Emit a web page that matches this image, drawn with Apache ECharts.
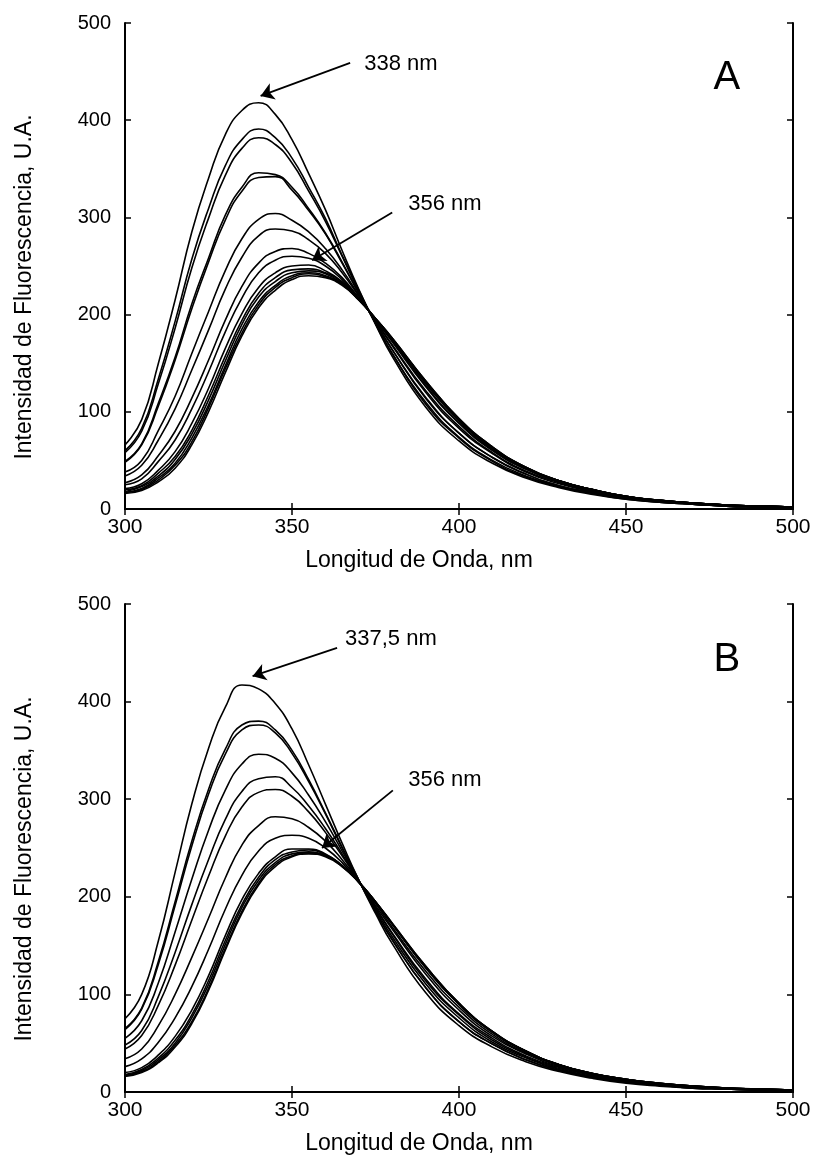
<!DOCTYPE html>
<html><head><meta charset="utf-8">
<script src="https://cdn.jsdelivr.net/npm/echarts@6/dist/echarts.min.js"></script>
<style>html,body{margin:0;padding:0;background:#fff}#c{width:816px;height:1165px}</style>
</head><body><div id="c"></div>
<script>
// Wavelength grid (nm)
const wavelengths = [300,305,310,315,320,325,330,335,340,345,350,355,360,365,370,375,380,390,400,410,420,430,440,450,460,470,480,490,500];

// Panel A spectra (fluorescence intensity, a.u.)
const A1  = [66,92,150,215,285,340,385,410,418,406,380,345,308,266,226,190,157,105,70,47,32,22,15,10,7,5,3,2,1];
const A2  = [60,83,134,193,257,309,353,380,391,382,361,331,299,261,225,191,160,108,73,49,33,23,16,10,7,5,3,2,1];
const A3  = [58,80,129,186,248,299,343,371,382,375,356,327,296,260,224,191,160,110,74,50,34,23,16,11,7,5,3,2,1];
const A4  = [49,67,109,156,211,258,302,331,346,344,331,309,284,254,222,192,164,114,78,53,36,24,17,11,8,5,3,2,1];
const A5  = [48,66,106,153,206,254,297,327,341,342,328,307,283,253,222,192,164,115,78,53,36,24,17,11,8,5,3,2,1];
const A6  = [38,50,81,116,160,203,245,278,298,304,297,285,268,246,220,193,168,120,83,57,38,26,18,12,8,6,4,3,2];
const A7  = [34,45,71,103,143,184,226,259,281,288,286,277,263,243,219,194,169,122,85,58,39,27,18,12,8,6,4,3,2];
const A8  = [27,35,55,80,114,153,194,229,253,265,268,263,253,238,217,195,172,126,88,60,41,28,19,12,9,6,4,3,2];
const A9  = [25,31,49,71,103,141,182,217,243,256,260,258,250,236,217,195,173,127,89,61,41,28,19,12,9,6,4,3,2];
const A10 = [21,26,40,59,88,124,165,201,228,243,250,251,245,234,216,195,174,129,91,62,42,28,20,13,9,6,4,3,2];
const A11 = [20,24,37,54,81,117,157,194,222,238,246,247,243,233,216,196,175,130,91,63,42,29,20,13,9,6,4,3,2];
const A12 = [18,23,34,51,77,112,152,190,218,234,243,245,242,232,216,196,175,131,92,63,42,29,20,13,9,6,4,3,2];
const A13 = [17,21,32,47,73,107,147,185,213,230,240,243,240,231,215,196,175,131,92,63,43,29,20,13,9,6,4,3,2];
const A14 = [17,20,30,45,69,104,144,181,210,228,238,242,239,231,215,196,176,132,93,64,43,29,20,13,9,6,4,3,2];
const A15 = [16,19,28,42,66,100,140,178,207,225,236,240,238,230,215,196,176,132,93,64,43,29,20,13,9,6,4,3,2];

// Panel B spectra
const B1  = [75,100,155,225,295,352,394,417,413,398,372,335,295,255,217,183,152,102,68,46,31,21,14,9,6,4,3,2,1];
const B2  = [65,86,134,195,257,310,351,376,380,371,350,320,286,251,217,185,156,107,72,49,33,22,15,10,7,4,3,2,1];
const B3  = [64,85,131,191,252,305,346,371,376,368,347,318,285,250,217,185,156,107,72,49,33,22,15,10,7,4,3,2,1];
const B4  = [55,73,112,164,218,268,309,336,346,342,327,304,277,247,216,187,159,111,76,51,35,23,16,10,7,5,3,2,1];
const B5  = [48,63,98,143,192,238,279,308,321,323,312,293,270,244,216,189,162,114,79,53,36,24,16,11,7,5,3,2,1];
const B6  = [44,58,89,130,176,221,262,292,307,310,303,287,266,242,216,189,163,116,80,55,37,25,17,11,8,5,3,2,1];
const B7  = [34,44,68,100,138,178,219,253,273,282,280,271,257,238,216,191,167,121,84,57,39,26,18,12,8,5,4,3,2];
const B8  = [26,34,51,76,108,146,187,222,247,260,263,260,250,235,215,193,169,124,87,59,40,27,18,12,8,6,4,3,2];
const B9  = [20,25,38,57,84,119,160,197,224,241,249,249,244,232,215,194,172,127,90,61,41,28,19,13,9,6,4,3,2];
const B10 = [18,23,35,53,79,114,155,192,220,238,246,248,243,232,215,195,172,128,90,61,42,28,19,13,9,6,4,3,2];
const B11 = [17,22,33,50,76,110,151,189,217,235,244,246,242,232,215,195,172,128,90,62,42,28,19,13,9,6,4,3,2];
const B12 = [17,21,31,48,72,106,147,185,214,233,242,245,242,231,215,195,173,129,91,62,42,28,19,13,9,6,4,3,2];
const B13 = [16,20,30,46,70,104,145,183,212,231,241,244,241,231,215,195,173,129,91,62,42,28,19,13,9,6,4,3,2];

const panelACurves = [A1,A2,A3,A4,A5,A6,A7,A8,A9,A10,A11,A12,A13,A14,A15];
const panelBCurves = [B1,B2,B3,B4,B5,B6,B7,B8,B9,B10,B11,B12,B13];

// Axis settings and texts
const xMin = 300, xMax = 500, xStep = 50;
const yMin = 0, yMax = 500, yStep = 100;
const xTitle = 'Longitud de Onda, nm';
const yTitle = 'Intensidad de Fluorescencia, U.A.';

// Annotations (data coordinates)
const panelLabels = ['A', 'B'];
const panelLabelPos = [[480.2, 443], [480.2, 443]];
const peakLabels = ['338 nm', '337,5 nm'];
const peakLabelPos = [[382.6, 458], [379.6, 464]];
const peakArrows = [[[367.4, 459], [340.6, 425]], [[363.5, 455], [338.2, 426]]];
const redLabels = ['356 nm', '356 nm'];
const redLabelPos = [[395.8, 314], [395.8, 320]];
const redArrows = [[[380, 305], [356, 256]], [[380.2, 309], [359, 250]]];

const FONT = '"Liberation Sans", Arial, Helvetica, sans-serif';
const grids = [
  {left:125, top:23, width:668, height:486},
  {left:125, top:604, width:668, height:488}
];

const axisLineStyle = {show:true, lineStyle:{color:'#000', width:2}};
const tickStyle = {show:true, inside:true, length:6, lineStyle:{color:'#000', width:1.5}};

const xAxis = [], yAxis = [], series = [];
grids.forEach((g, gi) => {
  xAxis.push({gridIndex:gi, type:'value', min:xMin, max:xMax, interval:xStep, position:'bottom',
    axisLine:axisLineStyle, axisTick:tickStyle, splitLine:{show:false},
    axisLabel:{margin:8, color:'#000', fontSize:21, fontFamily:FONT},
    name:xTitle, nameLocation:'middle', nameGap:40,
    nameTextStyle:{color:'#000', fontSize:23, fontFamily:FONT, padding:[0,80,0,0]}});
  xAxis.push({gridIndex:gi, type:'value', min:xMin, max:xMax, interval:xStep, position:'top',
    axisLine:axisLineStyle, axisTick:tickStyle, splitLine:{show:false}, axisLabel:{show:false}});
  yAxis.push({gridIndex:gi, type:'value', min:yMin, max:yMax, interval:yStep, position:'left',
    axisLine:axisLineStyle, axisTick:tickStyle, splitLine:{show:false},
    axisLabel:{margin:14, color:'#000', fontSize:20, fontFamily:FONT},
    name:yTitle, nameLocation:'middle', nameGap:89,
    nameTextStyle:{color:'#000', fontSize:23, fontFamily:FONT, padding:[0,42,0,0]}});
  yAxis.push({gridIndex:gi, type:'value', min:yMin, max:yMax, interval:yStep, position:'right',
    axisLine:axisLineStyle, axisTick:tickStyle, splitLine:{show:false}, axisLabel:{show:false}});
});

function addCurves(curves, gi) {
  curves.forEach((vals, i) => {
    series.push({type:'line', name:'P' + gi + '_' + i, xAxisIndex:gi*2, yAxisIndex:gi*2,
      data: wavelengths.map((w, k) => [w, vals[k]]),
      smooth:true, showSymbol:false, symbol:'none', silent:true,
      lineStyle:{color:'#000', width:1.6}});
  });
}
addCurves(panelACurves, 0);
addCurves(panelBCurves, 1);

const textLabel = (size) => ({show:true, position:[1, 1], align:'center', verticalAlign:'middle',
  formatter:'{b}', color:'#000', opacity:1, textBorderWidth:0, fontFamily:FONT, fontSize:size});

[0, 1].forEach(gi => {
  series.push({type:'lines', coordinateSystem:'cartesian2d', xAxisIndex:gi*2, yAxisIndex:gi*2,
    symbol:['none','arrow'], symbolSize:[1, 13], silent:true,
    lineStyle:{color:'#000', width:1.8, opacity:1},
    data:[{coords:peakArrows[gi]}, {coords:redArrows[gi]}]});
  series.push({type:'scatter', xAxisIndex:gi*2, yAxisIndex:gi*2, symbolSize:2, silent:true,
    itemStyle:{color:'#fff', opacity:1},
    label:textLabel(22),
    data:[{name:peakLabels[gi], value:peakLabelPos[gi]}, {name:redLabels[gi], value:redLabelPos[gi]}]});
  series.push({type:'scatter', xAxisIndex:gi*2, yAxisIndex:gi*2, symbolSize:2, silent:true,
    itemStyle:{color:'#fff', opacity:1},
    label:textLabel(40),
    data:[{name:panelLabels[gi], value:panelLabelPos[gi]}]});
});

const chart = echarts.init(document.getElementById('c'), null, {renderer:'canvas'});
chart.setOption({animation:false, backgroundColor:'#fff', grid:grids, xAxis, yAxis, series});
</script></body></html>
